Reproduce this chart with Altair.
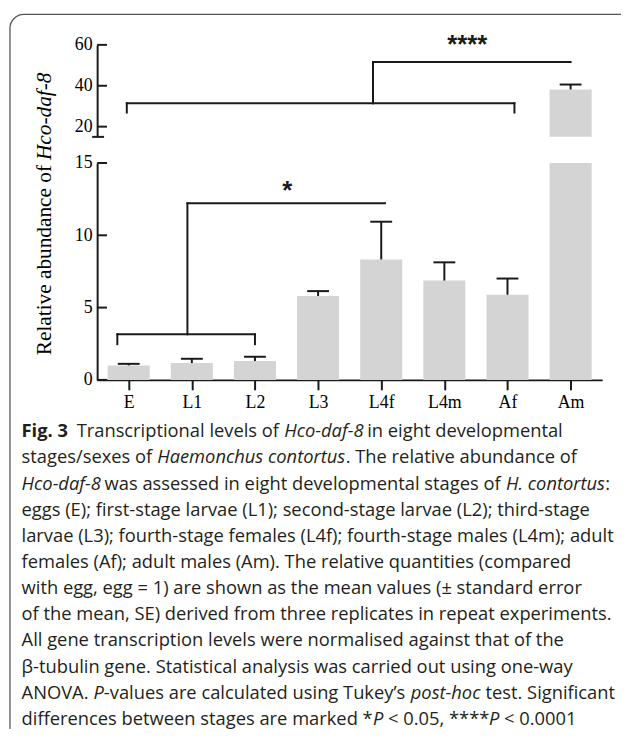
import json
import altair as alt
import pandas as pd

# ---------------- data ----------------
cats = ["E", "L1", "L2", "L3", "L4f", "L4m", "Af", "Am"]
means = [1.00, 1.16, 1.30, 5.80, 8.33, 6.87, 5.89, 38.2]
errs = [0.11, 0.30, 0.30, 0.34, 2.61, 1.26, 1.12, 2.4]
lower_ticks = [0, 5, 10, 15]
upper_ticks = [20, 40, 60]

# significance brackets (x in category index units, y in data units)
low_br_x = [-0.18, -0.18, 2.0, 0.93, 0.93]
low_br_x2 = [2.0, -0.18, 2.0, 0.93, 4.06]
low_br_y = [3.15, 2.47, 2.47, 3.15, 12.21]
low_br_y2 = [3.15, 3.15, 3.15, 12.21, 12.21]
up_br_x = [-0.03, -0.03, 6.11, 3.87, 3.87]
up_br_x2 = [6.11, -0.03, 6.11, 3.87, 7.0]
up_br_y = [31.4, 26.9, 26.9, 31.4, 51.6]
up_br_y2 = [31.4, 31.4, 31.4, 51.6, 51.6]

y_title = ["Relative abundance of", "Hco-daf-8"]
stars = ["*", "****"]

CAPTION = [
    [("b", "Fig. 3"), ("r", "  Transcriptional levels of "), ("i", "Hco-daf-8"), ("r", " in eight developmental")],
    [("r", "stages/sexes of "), ("i", "Haemonchus contortus"), ("r", ". The relative abundance of")],
    [("i", "Hco-daf-8"), ("r", " was assessed in eight developmental stages of "), ("i", "H. contortus"), ("r", ":")],
    [("r", "eggs (E); first-stage larvae (L1); second-stage larvae (L2); third-stage")],
    [("r", "larvae (L3); fourth-stage females (L4f); fourth-stage males (L4m); adult")],
    [("r", "females (Af); adult males (Am). The relative quantities (compared")],
    [("r", "with egg, egg = 1) are shown as the mean values (\u00b1 standard error")],
    [("r", "of the mean, SE) derived from three replicates in repeat experiments.")],
    [("r", "All gene transcription levels were normalised against that of the")],
    [("r", "\u03b2-tubulin gene. Statistical analysis was carried out using one-way")],
    [("r", "ANOVA. "), ("i", "P"), ("r", "-values are calculated using Tukey\u2019s "), ("i", "post-hoc"), ("r", " test. Significant")],
    [("r", "differences between stages are marked *"), ("i", "P"), ("r", " < 0.05, ****"), ("i", "P"), ("r", " < 0.0001")],
]

# ---------------- layout (image pixel coordinates) ----------------
VX0, VY0 = 98, 20          # view origin in the page picture
W, H = 510, 360
CAP_X0, CAP_BASE, CAP_STEP = 21.7, 438, 26.4
CAP_FONT, CAP_SIZE = "Open Sans", 18.5

# approximate advance widths of Open Sans (units per 2048 em), used to chain the caption pieces
_ADV = {
    " ": 532, "(": 590, ")": 590, "*": 1120, ",": 502, "-": 659, ".": 545, "/": 752, ":": 545, ";": 545,
    "<": 1171, "=": 1171, "\u00b1": 1171, "\u2019": 373, "\u03b2": 1260,
    "A": 1296, "B": 1327, "C": 1292, "D": 1493, "E": 1139, "F": 1057, "G": 1491, "H": 1511, "I": 571,
    "J": 547, "K": 1257, "L": 1063, "M": 1849, "N": 1544, "O": 1595, "P": 1233, "Q": 1595, "R": 1266,
    "S": 1124, "T": 1157, "U": 1511, "V": 1233, "W": 1896, "X": 1219, "Y": 1163, "Z": 1169,
    "a": 1139, "b": 1255, "c": 975, "d": 1255, "e": 1149, "f": 694, "g": 1122, "h": 1257, "i": 518,
    "j": 518, "k": 1075, "l": 518, "m": 1905, "n": 1257, "o": 1237, "p": 1255, "q": 1255, "r": 836,
    "s": 977, "t": 723, "u": 1257, "v": 1026, "w": 1593, "x": 1073, "y": 1028, "z": 977,
}
_STYLE_F = {"r": 1.0, "i": 0.94, "b": 1.03}


def text_w(s, style):
    units = sum(_ADV.get(ch, 1171) for ch in s)
    return units / 2048 * CAP_SIZE * _STYLE_F[style]


INK = "#1a1a1a"
BAR = "#d4d4d4"
SERIF = "Liberation Serif"

df = pd.DataFrame({"cat": cats, "idx": list(range(len(cats))), "mean": means, "err": errs})
one = pd.DataFrame({"a": [1]})

xscale = alt.Scale(domain=[-0.5, 7.5], nice=False, zero=False)
lowscale = alt.Scale(domain=[0, 15], range=[380 - VY0, 161 - VY0], nice=False, zero=False)
upscale = alt.Scale(domain=[15, 60], range=[134.6 - VY0, 41.7 - VY0], nice=False, zero=False)

xaxis = alt.Axis(
    values=list(range(len(cats))), labelExpr=json.dumps(cats) + "[datum.value]",
    title=None, grid=False, domainColor=INK, domainWidth=2, tickColor=INK, tickWidth=2,
    tickSize=10, labelFont=SERIF, labelFontSize=18, labelColor="black", labelPadding=4,
    labelFlush=False, labelOverlap=False, orient="bottom",
)


def yaxis(vals):
    return alt.Axis(
        values=vals, orient="left", title=None, grid=False, domainColor=INK, domainWidth=2,
        ticks=False, labelFont=SERIF, labelFontSize=18, labelColor="black",
        labelPadding=5, labelFlush=False, labelOverlap=False,
    )


base = alt.Chart(df).transform_calculate(
    xl="datum.idx - 0.333", xr="datum.idx + 0.333",
    cl="datum.idx - 0.173", cr="datum.idx + 0.173",
    hi="datum.mean + datum.err", top="min(datum.mean, 15)",
)
NOX = dict(scale=xscale, axis=None)

# ---- lower panel ----
low_bars = base.mark_bar(color=BAR).encode(
    x=alt.X("xl:Q", scale=xscale, axis=xaxis), x2="xr:Q",
    y=alt.Y("top:Q", scale=lowscale, axis=yaxis(lower_ticks)), y2=alt.datum(0),
)
low_err = base.transform_filter("datum.mean < 15").mark_rule(color=INK, strokeWidth=2).encode(
    x=alt.X("idx:Q", **NOX),
    y=alt.Y("mean:Q", scale=lowscale, axis=None), y2="hi:Q",
)
low_cap = base.transform_filter("datum.mean < 15").mark_rule(color=INK, strokeWidth=2).encode(
    x=alt.X("cl:Q", **NOX), x2="cr:Q",
    y=alt.Y("hi:Q", scale=lowscale, axis=None),
)
low_tk = alt.Chart(pd.DataFrame({"v": lower_ticks})).mark_rule(color=INK, strokeWidth=2).encode(
    x=alt.value(0), x2=alt.value(10), y=alt.Y("v:Q", scale=lowscale, axis=None),
)
low_br = alt.Chart(pd.DataFrame({"x": low_br_x, "x2": low_br_x2, "y": low_br_y, "y2": low_br_y2})).mark_rule(
    color=INK, strokeWidth=2, strokeCap="square"
).encode(
    x=alt.X("x:Q", **NOX), x2="x2:Q",
    y=alt.Y("y:Q", scale=lowscale, axis=None), y2="y2:Q",
)

# ---- upper panel ----
ub = base.transform_filter("datum.mean > 15")
up_bars = ub.mark_bar(color=BAR).encode(
    x=alt.X("xl:Q", **NOX), x2="xr:Q",
    y=alt.Y("mean:Q", scale=upscale, axis=yaxis(upper_ticks)), y2=alt.datum(15),
)
up_err = ub.mark_rule(color=INK, strokeWidth=2).encode(
    x=alt.X("idx:Q", **NOX),
    y=alt.Y("mean:Q", scale=upscale, axis=None), y2="hi:Q",
)
up_cap = ub.mark_rule(color=INK, strokeWidth=2).encode(
    x=alt.X("cl:Q", **NOX), x2="cr:Q",
    y=alt.Y("hi:Q", scale=upscale, axis=None),
)
up_tk = alt.Chart(pd.DataFrame({"v": upper_ticks})).mark_rule(color=INK, strokeWidth=2).encode(
    x=alt.value(0), x2=alt.value(10), y=alt.Y("v:Q", scale=upscale, axis=None),
)
up_break = alt.Chart(pd.DataFrame({"v": [15]})).mark_rule(color=INK, strokeWidth=2).encode(
    x=alt.value(-5), x2=alt.value(7), y=alt.Y("v:Q", scale=upscale, axis=None),
)
up_br = alt.Chart(pd.DataFrame({"x": up_br_x, "x2": up_br_x2, "y": up_br_y, "y2": up_br_y2})).mark_rule(
    color=INK, strokeWidth=2, strokeCap="square"
).encode(
    x=alt.X("x:Q", **NOX), x2="x2:Q",
    y=alt.Y("y:Q", scale=upscale, axis=None), y2="y2:Q",
)

# ---- annotations (pixel positioned) ----
border = alt.Chart(one).mark_rect(fillOpacity=0, stroke="#555555", strokeWidth=1.3, cornerRadius=14).encode(
    x=alt.value(10 - VX0), x2=alt.value(760), y=alt.value(11 - VY0), y2=alt.value(900),
)
TITLE_SIZE = 21.5
title_reg = alt.Chart(one).mark_text(
    angle=270, align="right", baseline="alphabetic", font=SERIF, fontSize=TITLE_SIZE, color="black"
).encode(x=alt.value(51.5 - VX0), y=alt.value(163 - VY0), text=alt.value(y_title[0]))
title_it = alt.Chart(one).mark_text(
    angle=270, align="left", baseline="alphabetic", font=SERIF, fontSize=TITLE_SIZE, fontStyle="italic",
    color="black"
).encode(x=alt.value(51.5 - VX0), y=alt.value(158 - VY0), text=alt.value(y_title[1]))
star1 = alt.Chart(one).mark_text(
    align="center", baseline="alphabetic", font="Liberation Sans", fontWeight="bold", fontSize=26, color=INK
).encode(x=alt.value(290 - VX0), y=alt.value(197.5 - VY0), text=alt.value(stars[0]))
star4 = alt.Chart(one).mark_text(
    align="center", baseline="alphabetic", font="Liberation Sans", fontWeight="bold", fontSize=26, color=INK
).encode(x=alt.value(471.7 - VX0), y=alt.value(50 - VY0), text=alt.value(stars[1]))

STYLE = {"r": ("normal", "normal"), "i": ("normal", "italic"), "b": ("bold", "normal")}
cap_layers = []
for k, line in enumerate(CAPTION):
    x = CAP_X0
    for style, text in line:
        lead = len(text) - len(text.lstrip(" "))
        x_draw = x + text_w(" " * lead, style)
        weight, fstyle = STYLE[style]
        cap_layers.append(
            alt.Chart(one).mark_text(
                align="left", baseline="alphabetic", font=CAP_FONT, fontSize=CAP_SIZE,
                fontWeight=weight, fontStyle=fstyle, color="#231f20",
            ).encode(
                x=alt.value(x_draw - VX0), y=alt.value(CAP_BASE + k * CAP_STEP - VY0),
                text=alt.value(text.strip(" ")),
            )
        )
        x += text_w(text, style)

chart = alt.layer(
    low_bars, low_err, low_cap, low_tk, low_br,
    up_bars, up_err, up_cap, up_tk, up_break, up_br,
    border, title_reg, title_it, star1, star4, *cap_layers,
).resolve_scale(x="independent", y="independent").properties(
    width=W, height=H,
    autosize=alt.AutoSizeParams(type="none"),
    padding={"left": VX0 - 8, "top": VY0 - 8, "right": 619 - (VX0 - 8) - W, "bottom": 721 - (VY0 - 8) - H},
    background="white",
).configure_view(strokeWidth=0)

chart.save("out.html", embed_options={"renderer": "svg", "actions": False})
